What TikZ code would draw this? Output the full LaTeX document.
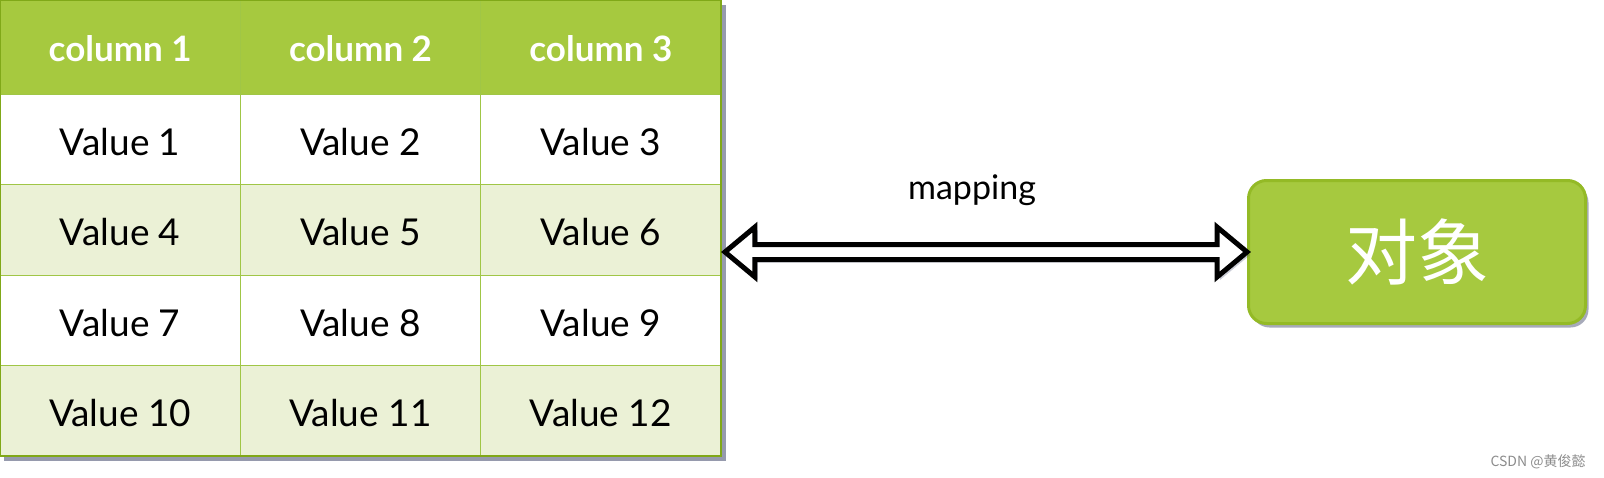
\documentclass[tikz,border=0pt]{standalone}
\usepackage{fontspec}
\setmainfont{Lato}
\newfontfamily\cjk{Noto Sans CJK SC}
\usepackage{tikz}
\usetikzlibrary{positioning,calc,shadows,backgrounds}
\definecolor{hdrgreen}{RGB}{166,201,63}
\definecolor{bandgreen}{RGB}{235,241,214}
\definecolor{gridgreen}{RGB}{160,198,70}
\definecolor{edgegreen}{RGB}{128,168,24}
\definecolor{boxedge}{RGB}{148,186,38}
\definecolor{shadowblue}{RGB}{80,86,118}
\tikzset{
  cell/.style={draw=gridgreen,fill=white,line width=1pt,outer sep=0pt,inner sep=0pt,
    minimum width=240.33pt,minimum height=90.5pt,text height=32pt,text depth=0pt,
    font=\fontsize{37}{44}\selectfont},
  head/.style={cell,minimum height=94pt,fill=hdrgreen,text=white,text height=29pt,
    font=\bfseries\fontsize{35}{42}\selectfont},
  band/.style={cell,fill=bandgreen},
  objbox/.style={draw=boxedge,line width=3pt,fill=hdrgreen,rounded corners=18pt,
    minimum width=337pt,minimum height=143pt,text=white,font=\cjk\fontsize{72}{80}\selectfont,
    drop shadow={shadow xshift=3pt,shadow yshift=-4pt,fill=shadowblue,opacity=0.5}},
  hollow/.style={draw=black,fill=white,line width=5pt,miter limit=10,
    drop shadow={shadow xshift=3pt,shadow yshift=-3pt,fill=shadowblue,opacity=0.3}},
  wmark/.style={text=black!45,font=\cjk\fontsize{14}{16}\selectfont}
}
\begin{document}
\begin{tikzpicture}[x=1pt,y=-1pt]
\useasboundingbox (0,0) rectangle (1604,477);
\node[head,anchor=north west] (h1) at (0,0) {column 1};
\node[head,right=0pt of h1] (h2) {column 2};
\node[head,right=0pt of h2] (h3) {column 3};
\node[cell,below=0pt of h1] (v1) {Value 1};
\node[cell,right=0pt of v1] (v2) {Value 2};
\node[cell,right=0pt of v2] (v3) {Value 3};
\node[band,below=0pt of v1] (v4) {Value 4};
\node[band,right=0pt of v4] (v5) {Value 5};
\node[band,right=0pt of v5] (v6) {Value 6};
\node[cell,below=0pt of v4] (v7) {Value 7};
\node[cell,right=0pt of v7] (v8) {Value 8};
\node[cell,right=0pt of v8] (v9) {Value 9};
\node[band,below=0pt of v7] (v10) {Value 10};
\node[band,right=0pt of v10] (v11) {Value 11};
\node[band,right=0pt of v11] (v12) {Value 12};
\draw[edgegreen,line width=2pt] (h1.north west) rectangle (v12.south east);
\begin{scope}[on background layer]
\fill[shadowblue,opacity=0.6] ([shift={(4pt,-5pt)}]h1.north west) rectangle ([shift={(5pt,-5pt)}]v12.south east);
\end{scope}
\node[objbox] (obj) at (1417,252) {对象};
\node[font=\fontsize{34}{40}\selectfont] (lbl) at (972,190) {mapping};
\coordinate (lt) at ($(v6.east |- obj.west)+(4,0)$);
\coordinate (rt) at (obj.west);
\draw[hollow] (lt) -- ($(lt)+(30,-25)$) -- ($(lt)+(30,-7.5)$) -- ($(rt)+(-30,-7.5)$)
  -- ($(rt)+(-30,-25)$) -- (rt) -- ($(rt)+(-30,25)$) -- ($(rt)+(-30,7.5)$)
  -- ($(lt)+(30,7.5)$) -- ($(lt)+(30,25)$) -- cycle;
\node[wmark] (wm) at (1538,462) {CSDN @黄俊懿};
\end{tikzpicture}
\end{document}
